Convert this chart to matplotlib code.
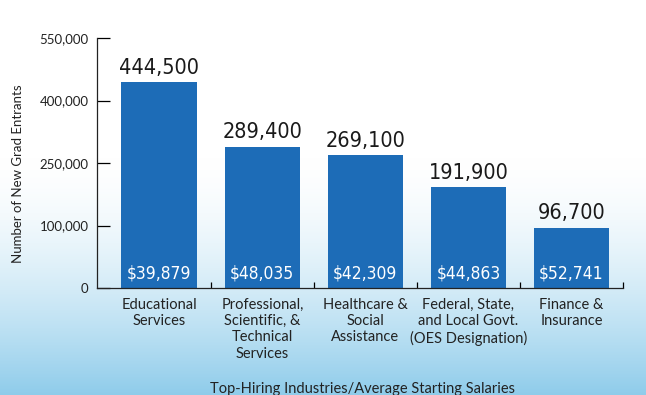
import numpy as np
import matplotlib
matplotlib.use("Agg")
import matplotlib.pyplot as plt

categories = ["Educational\nServices",
              "Professional,\nScientific, &\nTechnical\nServices",
              "Healthcare &\nSocial\nAssistance",
              "Federal, State,\nand Local Govt.\n(OES Designation)",
              "Finance &\nInsurance"]
entrants = [444500, 289400, 269100, 191900, 96700]
salaries = ["$39,879", "$48,035", "$42,309", "$44,863", "$52,741"]
ytick_values = [0, 100000, 250000, 400000, 550000]
ytick_labels = ["0", "100,000", "250,000", "400,000", "550,000"]

plt.rcParams['font.family'] = ['Lato', 'DejaVu Sans']

fig = plt.figure(figsize=(6.46, 3.95), dpi=100)

# background gradient
bg = fig.add_axes([0, 0, 1, 1], zorder=-10)
h = 395
t = np.linspace(0, 1, h)
top = np.array([1.0, 1.0, 1.0])
bot = np.array([0.56, 0.80, 0.92])
w = np.clip((t - 0.40) / 0.60, 0, 1) ** 1.6
cols = top[None, :] * (1 - w[:, None]) + bot[None, :] * w[:, None]
img = np.repeat(cols[:, None, :], 10, axis=1)
bg.imshow(img, aspect='auto', extent=[0, 1, 0, 1], origin='upper')
bg.axis('off')

ax = fig.add_axes([97/646, 1-288/395, (623-97)/646, (288-38)/395])
ax.patch.set_alpha(0)

fwd = lambda v: np.interp(v, ytick_values, np.arange(len(ytick_values)))
inv = lambda v: np.interp(v, np.arange(len(ytick_values)), ytick_values)
ax.set_yscale('function', functions=(fwd, inv))

x = np.arange(len(categories))
bar_color = "#1d6cb7"
ax.bar(x, entrants, width=0.735, color=bar_color, zorder=2)

for xi, v, s in zip(x, entrants, salaries):
    ax.annotate(f"{v:,}", (xi, v), xytext=(0, 3), textcoords='offset points',
                ha='center', va='bottom', fontsize=15.5, family='DejaVu Sans',
                fontstretch='condensed', color='#1a1a1a')
    ax.annotate(s, (xi, 0), xytext=(0, 4), textcoords='offset points',
                ha='center', va='bottom', fontsize=12.5, family='DejaVu Sans',
                fontstretch='condensed', color='white')

ax.set_xlim(-0.605, 4.5)
ax.set_ylim(0, 550000)
ax.set_yticks(ytick_values)
ax.set_yticklabels(ytick_labels, fontsize=9.5, color='#222222')
ax.tick_params(axis='y', direction='in', length=9, width=0.9, pad=6)

ax.set_xticks(x + 0.5)
ax.set_xticklabels([])
ax.tick_params(axis='x', direction='in', length=4, width=0.9)
for xi, c in zip(x, categories):
    ax.text(xi, -0.04, c, transform=ax.get_xaxis_transform(), ha='center', va='top',
            fontsize=10.5, color='#222222', linespacing=1.2)

for s in ['top', 'right']:
    ax.spines[s].set_visible(False)
for s in ['left', 'bottom']:
    ax.spines[s].set_linewidth(0.9)
    ax.spines[s].set_color('#222222')

fig.text(18/646, 1-174/395, "Number of New Grad Entrants", rotation=90,
         ha='center', va='center', fontsize=9.5, color='#222222')
fig.text(362/646, 1-389/395, "Top-Hiring Industries/Average Starting Salaries",
         ha='center', va='center', fontsize=10.5, color='#222222')

fig.savefig("out.png", dpi=100)
